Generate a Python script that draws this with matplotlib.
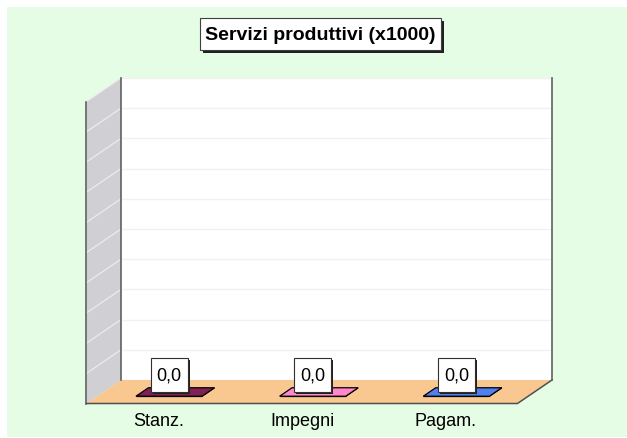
import matplotlib
matplotlib.use('Agg')
import matplotlib.pyplot as plt
from matplotlib.patches import Polygon, Rectangle
from matplotlib.path import Path
import matplotlib.patheffects as pe
import numpy as np

plt.rcParams['font.family'] = ['Liberation Sans', 'DejaVu Sans']

# ---- data ----
categories = ['Stanz.', 'Impegni', 'Pagam.']
values = [0.0, 0.0, 0.0]
value_labels = ['0,0', '0,0', '0,0']
bar_colors = ['#7f2155', '#ff88cc', '#5080f0']
title = 'Servizi produttivi (x1000)'
ymax = 1.0
n_grid = 10


def make_box(px, py):
    def box(x0, y0, width, height, mutation_size):
        hx, vy = px * mutation_size, py * mutation_size
        xa, ya = x0 - hx, y0 - vy
        xb, yb = x0 + width + hx, y0 + height + vy
        return Path([(xa, ya), (xb, ya), (xb, yb), (xa, yb), (xa, ya)], closed=True)
    return box


W, H = 627, 439
fig = plt.figure(figsize=(W / 100, H / 100), dpi=100, facecolor='white')
fig.patches.append(Rectangle((7 / W, 1 / H), (W - 7) / W, (H - 9) / H,
                             transform=fig.transFigure, facecolor='#e5fde5',
                             edgecolor='none', zorder=-10))

# back wall axes
L, R, T, B = 121, 552, 79, 381
ax = fig.add_axes([L / W, 1 - B / H, (R - L) / W, (B - T) / H])
ax.set_zorder(1)
ax.set_xlim(-0.5, len(categories) - 0.5)
ax.set_ylim(0, ymax)
ax.set_yticks(np.linspace(0, ymax, n_grid + 1))
ax.set_xticks([])
ax.tick_params(length=0, labelleft=False)
ax.grid(axis='y', color='#f1f1f1', lw=1)
ax.set_axisbelow(True)
ax.set_facecolor('white')
for s in ['left', 'top', 'bottom']:
    ax.spines[s].set_visible(False)
ax.spines['right'].set_color('#606060')
ax.spines['right'].set_linewidth(1.2)

# depth offsets in data units
px_per_x = (R - L) / len(categories)
px_per_y = (B - T) / ymax
DX = -34.5 / px_per_x
DY = -23.5 / px_per_y
x0, x1 = -0.5, len(categories) - 0.5


def P(x, y, f):
    return (x + f * DX, y + f * DY)


# left wall
ax.add_patch(Polygon([P(x0, 0, 0), P(x0, ymax, 0), P(x0, ymax, 1), P(x0, 0, 1)],
                     closed=True, facecolor='#cfcfd4', edgecolor='none',
                     clip_on=False, zorder=1))
for yt in np.linspace(0, ymax, n_grid + 1)[1:]:
    a, b = P(x0, yt, 0), P(x0, yt, 1)
    ax.plot([a[0], b[0]], [a[1], b[1]], color='#ececec', lw=0.9,
            clip_on=False, zorder=1.5)
for f in (0, 1):
    a, b = P(x0, 0, f), P(x0, ymax, f)
    ax.plot([a[0], b[0]], [a[1], b[1]], color='#606060', lw=1.2,
            clip_on=False, zorder=2)

# floor
ax.add_patch(Polygon([P(x0, 0, 0), P(x1, 0, 0), P(x1, 0, 1), P(x0, 0, 1)],
                     closed=True, facecolor='#f8c890', edgecolor='none',
                     clip_on=False, zorder=1))
pts = [P(x0, 0, 1), P(x1, 0, 1), P(x1, 0, 0)]
ax.plot([p[0] for p in pts], [p[1] for p in pts], color='#505050', lw=1.1,
        clip_on=False, zorder=2)

# bars
bw, f0, f1 = 0.46, 0.33, 0.69
for i, (v, c) in enumerate(zip(values, bar_colors)):
    front = [P(i - bw / 2, 0, f1), P(i + bw / 2, 0, f1), P(i + bw / 2, v, f1), P(i - bw / 2, v, f1)]
    side = [P(i + bw / 2, 0, f1), P(i + bw / 2, 0, f0), P(i + bw / 2, v, f0), P(i + bw / 2, v, f1)]
    top = [P(i - bw / 2, v, f0), P(i + bw / 2, v, f0), P(i + bw / 2, v, f1), P(i - bw / 2, v, f1)]
    for poly in (front, side, top):
        ax.add_patch(Polygon(poly, closed=True, facecolor=c, edgecolor='black',
                             lw=0.9, clip_on=False, zorder=3))
    ann = ax.annotate(value_labels[i], xy=P(i, v, f1), xytext=(0, 21.5),
                      textcoords='offset pixels', ha='center', va='center',
                      fontsize=13, zorder=5, annotation_clip=False,
                      bbox=dict(boxstyle=make_box(0.33, 0.46), fc='white',
                                ec='#303030', lw=0.8))
    ann.get_bbox_patch().set_path_effects(
        [pe.SimplePatchShadow(offset=(1.5, -1.5), shadow_rgbFace='#202020', alpha=1),
         pe.Normal()])
    # category label
    ax.annotate(categories[i], xy=P(i, 0, 1), xytext=(0, -22),
                textcoords='offset pixels', ha='center', va='baseline',
                fontsize=13, annotation_clip=False)

# title
t = fig.text(320.5 / W, 1 - 35 / H, title, ha='center', va='center',
             fontsize=14, fontweight='bold', zorder=5,
             bbox=dict(boxstyle=make_box(0.27, 0.37), fc='white', ec='#404040', lw=0.8))
t.get_bbox_patch().set_path_effects(
    [pe.SimplePatchShadow(offset=(2.2, -2.2), shadow_rgbFace='#202020', alpha=1),
     pe.Normal()])

fig.savefig('out.png', dpi=100, facecolor=fig.get_facecolor())
